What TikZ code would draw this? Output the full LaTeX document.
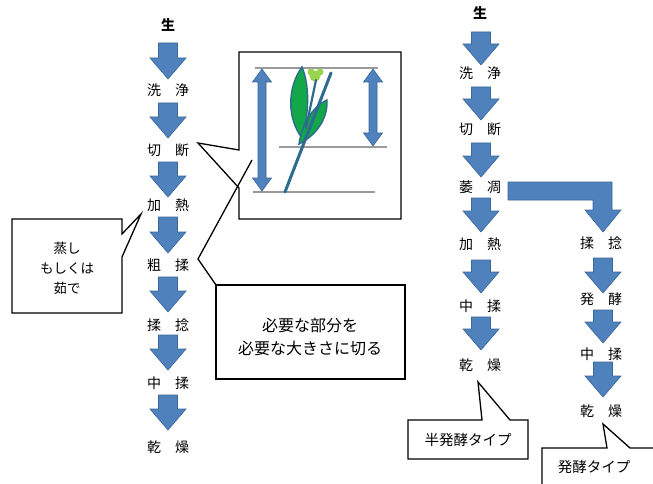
\documentclass[tikz,border=0pt]{standalone}
\usepackage{fontspec}
\newfontfamily\jp{Noto Sans CJK JP}
\definecolor{arrowblue}{HTML}{4F81BD}
\definecolor{arrowedge}{HTML}{3A6898}
\definecolor{stemteal}{HTML}{2E6B8E}
\definecolor{leafgreen}{HTML}{12A84A}
\definecolor{flowergreen}{HTML}{9AD34E}
\definecolor{guidegrey}{HTML}{9A9A9A}

% downward block arrow: x centre, top y, tip y
\newcommand{\downblock}[3]{%
  \path[blockarrow] (#1-9.5,#2) -- (#1+9.5,#2) -- (#1+9.5,#3-21) -- (#1+18,#3-21)
    -- (#1,#3) -- (#1-18,#3-21) -- (#1-9.5,#3-21) -- cycle;}
% vertical double-headed arrow: x centre, top y, bottom y
\newcommand{\sizearrow}[3]{%
  \path[blockarrow] (#1,#2) -- (#1+9.5,#2+13) -- (#1+4,#2+13) -- (#1+4,#3-13)
    -- (#1+9.5,#3-13) -- (#1,#3) -- (#1-9.5,#3-13) -- (#1-4,#3-13)
    -- (#1-4,#2+13) -- (#1-9.5,#2+13) -- cycle;}

\begin{document}
\begin{tikzpicture}[x=1pt,y=-1pt,
  stage/.style={font=\jp\fontsize{14}{16}\selectfont, inner sep=0pt},
  rawstage/.style={font=\jp\bfseries\fontsize{14}{16}\selectfont, inner sep=0pt},
  note/.style={font=\jp\fontsize{13.5}{20}\selectfont, inner sep=0pt, align=center},
  blockarrow/.style={fill=arrowblue, draw=arrowedge, line width=0.6},
  callout/.style={draw=black, line width=1.3, fill=white, line join=miter},
  guide/.style={draw=guidegrey, line width=1.2}]
\useasboundingbox (0,0) rectangle (653,484);
\clip (0,0) rectangle (653,484);
\fill[white] (0,0) rectangle (653,484);

% ---- left process column ----
\node[rawstage] (l1) at (168,25) {生};
\node[stage] (l2) at (168,90) {洗　浄};
\node[stage] (l3) at (168,150) {切　断};
\node[stage] (l4) at (168,205) {加　熱};
\node[stage] (l5) at (168,265) {粗　揉};
\node[stage] (l6) at (168,325) {揉　捻};
\node[stage] (l7) at (168,383) {中　揉};
\node[stage] (l8) at (168,447) {乾　燥};
\downblock{168}{43}{79}
\downblock{168}{103}{138}
\downblock{168}{162}{197}
\downblock{168}{217}{253}
\downblock{168}{277}{312}
\downblock{168}{335}{370}
\downblock{168}{395}{430}

% callout: steaming or boiling
\path[callout] (12,219) -- (122,219) -- (122,234) -- (141,214) -- (122,257)
  -- (122,313) -- (12,313) -- cycle;
\node[note] (steam) at (67,268) {蒸し\\もしくは\\茹で};

% callout with the cut plant sketch
\path[callout] (239,52) -- (401,52) -- (401,219) -- (239,219) -- (239,188)
  -- (198,143) -- (239,150) -- cycle;
\draw[guide] (255,68) -- (378,68);
\draw[guide] (279,147) -- (387,147);
\draw[guide] (253,192) -- (375,192);
\sizearrow{262}{69}{191}
\sizearrow{373}{69}{146}
% leaves
\path[fill=leafgreen, draw=stemteal, line width=1.4]
  (302,67) .. controls (288,86) and (286,117) .. (302,138)
  .. controls (309,114) and (310,86) .. (302,67) -- cycle;
\path[fill=leafgreen, draw=stemteal, line width=1.4]
  (327,100) .. controls (313,106) and (302,124) .. (299,144)
  .. controls (313,137) and (328,122) .. (327,100) -- cycle;
% flower
\fill[flowergreen] (315,76) circle (5.5);
\fill[flowergreen] (311,72) circle (3.5);
\fill[flowergreen] (320,72) circle (3.5);
% stem and branch
\draw[stemteal, line width=3, line cap=round] (285,192) -- (331,73);
\draw[stemteal, line width=2.2, line cap=round] (306,128) -- (316,80);

% callout: cut to the needed part and size
\path[callout] (216,285) -- (405,285) -- (405,379) -- (216,379) -- cycle;
\draw[black, line width=1.3, line join=miter] (216,285) -- (198,259) -- (252,160);
\node[font=\jp\fontsize{16}{23}\selectfont, align=center, inner sep=0pt] (cut)
  at (310,337) {必要な部分を\\必要な大きさに切る};

% ---- right process column (semi-fermented) ----
\node[rawstage] (r1) at (480,13) {生};
\node[stage] (r2) at (480,73) {洗　浄};
\node[stage] (r3) at (480,129) {切　断};
\node[stage] (r4) at (480,187) {萎　凋};
\node[stage] (r5) at (480,244) {加　熱};
\node[stage] (r6) at (480,306) {中　揉};
\node[stage] (r7) at (480,365) {乾　燥};
\downblock{481}{32}{65}
\downblock{481}{87}{120}
\downblock{481}{143}{177}
\downblock{481}{198}{232}
\downblock{481}{260}{293}
\downblock{481}{317}{350}

% bent arrow from withering to the fermented branch
\path[blockarrow] (508,182) -- (612,182) -- (612,210) -- (621,210) -- (603,232)
  -- (585,210) -- (593,210) -- (593,200) -- (508,200) -- cycle;

% ---- fermented branch ----
\node[stage] (f1) at (601,243) {揉　捻};
\node[stage] (f2) at (601,299) {発　酵};
\node[stage] (f3) at (601,354) {中　揉};
\node[stage] (f4) at (601,411) {乾　燥};
\downblock{603}{258}{293}
\downblock{603}{310}{343}
\downblock{603}{362}{397}

% type callouts
\path[callout] (408,420) -- (482,420) -- (478,382) -- (510,420) -- (528,420)
  -- (528,459) -- (408,459) -- cycle;
\node[font=\jp\fontsize{14.5}{16}\selectfont, inner sep=0pt] (semi) at (468,440) {半発酵タイプ};
\path[callout] (542,448) -- (607,448) -- (603,424) -- (630,448) -- (680,448)
  -- (680,510) -- (542,510) -- cycle;
\node[font=\jp\fontsize{14.5}{16}\selectfont, inner sep=0pt] (ferm) at (594,467) {発酵タイプ};
\end{tikzpicture}
\end{document}
